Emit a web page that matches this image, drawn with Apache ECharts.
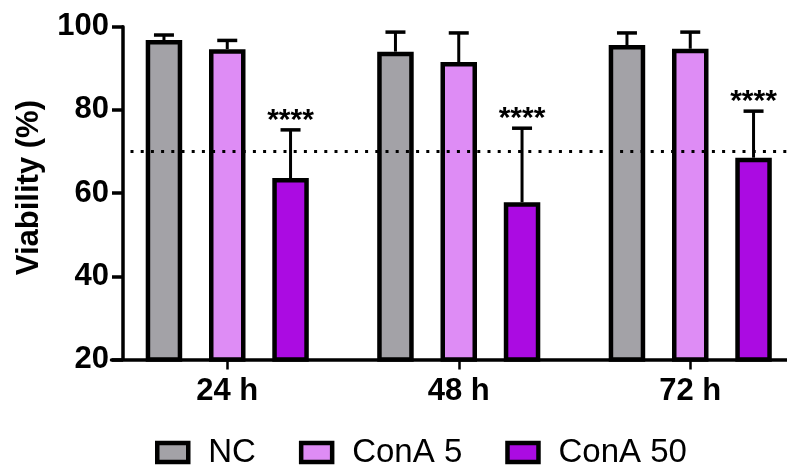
<!DOCTYPE html>
<html><head><meta charset="utf-8">
<script src="https://cdn.jsdelivr.net/npm/echarts@6/dist/echarts.min.js"></script>
<style>html,body{margin:0;padding:0;background:#fff}#c{width:787px;height:467px}</style>
</head><body><div id="c"></div>
<script>
// ---- data ----
const categories = ['24 h', '48 h', '72 h'];
const seriesNames = ['NC', 'ConA 5', 'ConA 50'];
const ncMean = [96.8, 94.0, 95.6];
const ncSD = [1.2, 4.7, 2.9];
const conA5Mean = [94.6, 91.5, 94.7];
const conA5SD = [2.1, 7.0, 4.0];
const conA50Mean = [63.6, 57.8, 68.5];
const conA50SD = [11.6, 17.8, 11.2];
const conA50Stars = ['****', '****', '****'];
const thresholdValue = 70;
const yTicks = [20, 40, 60, 80, 100];

// ---- style / layout ----
const colors = ['#a3a2a7', '#de8cf5', '#ab0be2'];
const FONT = '"Liberation Sans", Arial, sans-serif';
const GRID_LEFT = 111.5, GRID_WIDTH = 694.5, GRID_TOP = 26.7, GRID_HEIGHT = 332.8;
const AXIS_X = 123;
const BAR_W = 36.5, BAR_GAP = 0.734, BAR_STEP = BAR_W * (1 + BAR_GAP);
const CAP = 20;

const means = [ncMean, conA5Mean, conA50Mean];
const sds = [ncSD, conA5SD, conA50SD];
const stars = [null, null, conA50Stars];

const barSeries = seriesNames.map((name, i) => {
  const s = {
    type: 'bar', name, data: means[i],
    barWidth: BAR_W, barGap: (BAR_GAP * 100) + '%',
    itemStyle: { color: colors[i], borderColor: '#000', borderWidth: 4.5 },
    z: 2
  };
  if (i === 0) {
    s.markLine = {
      silent: true, symbol: ['none', 'none'], animation: false,
      label: { show: false }, z: 5,
      lineStyle: { color: '#000', width: 3, type: [3, 7.2], dashOffset: 2.7, cap: 'butt' },
      emphasis: { disabled: true },
      data: [[{ x: AXIS_X, yAxis: thresholdValue }, { x: 787, yAxis: thresholdValue }]]
    };
  }
  return s;
});

const errSeries = seriesNames.map((name, idx) => ({
  type: 'custom', name: name, silent: true, z: 3,
  data: means[idx].map((m, i) => [i, m, sds[idx][i]]),
  renderItem(params, api) {
    const c = api.value(0), m = api.value(1), s = api.value(2);
    const off = (idx - 1) * BAR_STEP;
    const p0 = api.coord([c, m]);
    const p1 = api.coord([c, m + s]);
    const x = p0[0] + off;
    const children = [
      { type: 'line', shape: { x1: x, y1: p0[1], x2: x, y2: p1[1] }, style: { stroke: '#000', lineWidth: 3 } },
      { type: 'line', shape: { x1: x - CAP / 2, y1: p1[1], x2: x + CAP / 2, y2: p1[1] }, style: { stroke: '#000', lineWidth: 3.5 } }
    ];
    const st = stars[idx] && stars[idx][params.dataIndex];
    if (st) {
      children.push({ type: 'text', style: { text: st, x: x, y: p1[1] - 9, align: 'center', verticalAlign: 'middle',
        font: 'bold 30px ' + FONT, fill: '#000' } });
    }
    return { type: 'group', children };
  }
}));

const chart = echarts.init(document.getElementById('c'), null, { renderer: 'canvas' });
chart.setOption({
  animation: false,
  backgroundColor: '#fff',
  grid: { left: GRID_LEFT, top: GRID_TOP, width: GRID_WIDTH, height: GRID_HEIGHT, containLabel: false, outerBoundsMode: 'none' },
  legend: {
    data: seriesNames, left: 155, top: 436, padding: 0,
    icon: 'rect', itemWidth: 31, itemHeight: 19, itemGap: 43,
    itemStyle: { borderColor: '#000', borderWidth: 4.5 },
    textStyle: { fontSize: 33, fontFamily: FONT, color: '#000', padding: [0, 0, 0, 15] },
    selectedMode: false
  },
  xAxis: {
    type: 'category', data: categories,
    axisLine: { show: true, onZero: false, lineStyle: { color: '#000', width: 3.5 } },
    axisTick: { show: true, alignWithLabel: true, length: 10, lineStyle: { color: '#000', width: 2.5 } },
    axisLabel: { color: '#000', fontSize: 31, fontWeight: 'bold', fontFamily: FONT, margin: 16 },
    splitLine: { show: false }
  },
  yAxis: {
    type: 'value', min: yTicks[0], max: yTicks[yTicks.length - 1], interval: yTicks[1] - yTicks[0],
    offset: -(AXIS_X - GRID_LEFT),
    axisLine: { show: true, lineStyle: { color: '#000', width: 3.5 } },
    axisTick: { show: true, length: 11, lineStyle: { color: '#000', width: 3.5 } },
    axisLabel: { color: '#000', fontSize: 31, fontWeight: 'bold', fontFamily: FONT, margin: 14, padding: [4, 0, 0, 0] },
    splitLine: { show: false },
    name: 'Viability (%)', nameLocation: 'middle', nameRotate: 90, nameGap: 78,
    nameTextStyle: { color: '#000', fontSize: 31, fontWeight: 'bold', fontFamily: FONT, padding: [0, 0, 0, 11] }
  },
  series: barSeries.concat(errSeries)
});
</script></body></html>
